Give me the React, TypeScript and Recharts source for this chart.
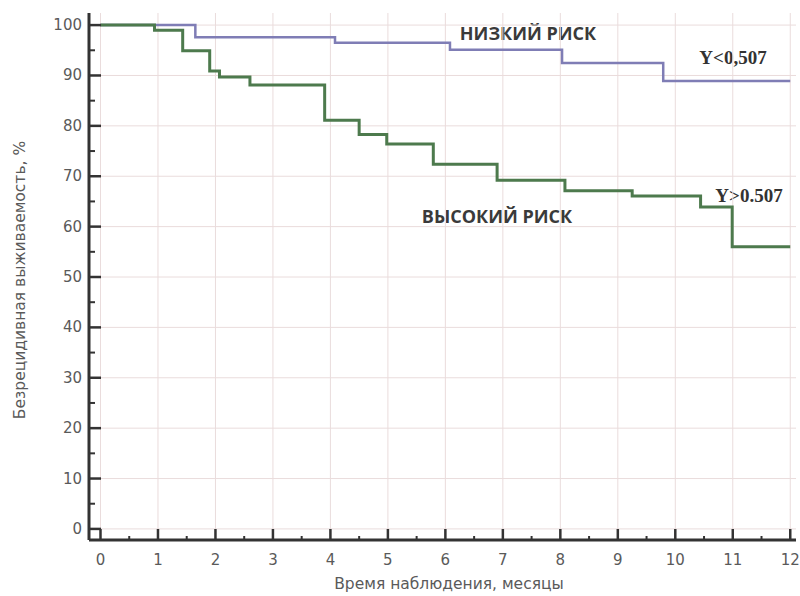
import { LineChart, Line, XAxis, YAxis, ReferenceLine } from 'recharts';

// Kaplan–Meier steps: time (months) and relapse-free survival (%)
const lowRiskTime = [0, 1.65, 4.08, 6.08, 8.03, 9.79, 12];
const lowRiskSurv = [100, 97.6, 96.5, 95.1, 92.5, 88.9, 88.9];

const highRiskTime = [0, 0.94, 1.43, 1.9, 2.07, 2.6, 3.9, 4.5, 4.98, 5.79, 6.9, 8.08, 9.25, 10.44, 10.99, 12];
const highRiskSurv = [100, 99, 94.9, 90.9, 89.7, 88.1, 81.1, 78.3, 76.4, 72.4, 69.2, 67.1, 66.1, 63.9, 56, 56];

const xMajor = [0, 1, 2, 3, 4, 5, 6, 7, 8, 9, 10, 11, 12];
const xTicks = [0, 0.5, 1, 1.5, 2, 2.5, 3, 3.5, 4, 4.5, 5, 5.5, 6, 6.5, 7, 7.5, 8, 8.5, 9, 9.5, 10, 10.5, 11, 11.5, 12];
const yMajor = [0, 10, 20, 30, 40, 50, 60, 70, 80, 90, 100];
const yTicks = [0, 5, 10, 15, 20, 25, 30, 35, 40, 45, 50, 55, 60, 65, 70, 75, 80, 85, 90, 95, 100];

const lowRisk = lowRiskTime.map((t, i) => ({ t, s: lowRiskSurv[i] }));
const highRisk = highRiskTime.map((t, i) => ({ t, s: highRiskSurv[i] }));

const AXIS = '#333';
const LABEL = '#5a5a5a';
const GRID = '#eadcdc';
const tickFont = 'DejaVu Sans, sans-serif';

const XTick = ({ x, y, payload }: any) => {
  const major = xMajor.includes(payload.value);
  return (
    <g>
      <line x1={x} x2={x} y1={y} y2={y - (major ? 11 : 4)} stroke={AXIS} strokeWidth={major ? 2.5 : 2} />
      {major && (
        <text x={x} y={y + 20} textAnchor="middle" dominantBaseline="central" fill={LABEL} fontSize={15} fontFamily={tickFont}>
          {payload.value}
        </text>
      )}
    </g>
  );
};

const YTick = ({ x, y, payload }: any) => {
  const major = yMajor.includes(payload.value);
  return (
    <g>
      <line x1={x} x2={x + (major ? 12 : 6)} y1={y} y2={y} stroke={AXIS} strokeWidth={major ? 2.5 : 2} />
      {major && (
        <text x={x - 7} y={y} textAnchor="end" dominantBaseline="central" fill={LABEL} fontSize={15} fontFamily={tickFont}>
          {payload.value}
        </text>
      )}
    </g>
  );
};

export default function App() {
  return (
    <div style={{ position: 'absolute', left: 0, top: 0, width: 800, height: 596, background: '#fff' }}>
      <LineChart width={800} height={596} margin={{ top: 13, right: 4, left: 0, bottom: 0 }}>
        {xMajor.map((v) => (
          <ReferenceLine key={'vx' + v} x={v} stroke={GRID} strokeWidth={1} />
        ))}
        {yMajor.map((v) => (
          <ReferenceLine key={'hy' + v} y={v} stroke={GRID} strokeWidth={1} />
        ))}
        <XAxis
          type="number"
          dataKey="t"
          domain={[-0.2, 12.1]}
          ticks={xTicks}
          interval={0}
          height={56}
          tickSize={0}
          tickMargin={0}
          tickLine={false}
          axisLine={{ stroke: AXIS, strokeWidth: 3 }}
          tick={<XTick />}
          allowDataOverflow
        />
        <YAxis
          type="number"
          dataKey="s"
          domain={[-2.2, 102.4]}
          ticks={yTicks}
          interval={0}
          width={89}
          tickSize={0}
          tickMargin={0}
          tickLine={false}
          axisLine={{ stroke: AXIS, strokeWidth: 3 }}
          tick={<YTick />}
          allowDataOverflow
        />
        <Line
          data={lowRisk}
          dataKey="s"
          type="stepAfter"
          stroke="#7f7db5"
          strokeWidth={2.5}
          dot={false}
          isAnimationActive={false}
        />
        <Line
          data={highRisk}
          dataKey="s"
          type="stepAfter"
          stroke="#4d7a4d"
          strokeWidth={3}
          dot={false}
          isAnimationActive={false}
        />
        <text x={528} y={33} textAnchor="middle" dominantBaseline="central" fill="#3a3a3a" fontSize={18} fontWeight={700} fontFamily="Open Sans, sans-serif">
          НИЗКИЙ РИСК
        </text>
        <text x={497} y={216} textAnchor="middle" dominantBaseline="central" fill="#3a3a3a" fontSize={18} fontWeight={700} fontFamily="Open Sans, sans-serif">
          ВЫСОКИЙ РИСК
        </text>
        <text x={733} y={57} textAnchor="middle" dominantBaseline="central" fill="#333" fontSize={19} fontWeight={700} fontFamily="Liberation Serif, serif">
          Y&lt;0,507
        </text>
        <text x={749} y={195} textAnchor="middle" dominantBaseline="central" fill="#333" fontSize={19} fontWeight={700} fontFamily="Liberation Serif, serif">
          Y&gt;0.507
        </text>
        <text x={449} y={584} textAnchor="middle" dominantBaseline="central" fill={LABEL} fontSize={15.5} fontFamily={tickFont}>
          Время наблюдения, месяцы
        </text>
        <text x={20} y={280} transform="rotate(-90 20 280)" textAnchor="middle" dominantBaseline="central" fill={LABEL} fontSize={15.5} fontFamily={tickFont}>
          Безрецидивная выживаемость, %
        </text>
      </LineChart>
    </div>
  );
}
